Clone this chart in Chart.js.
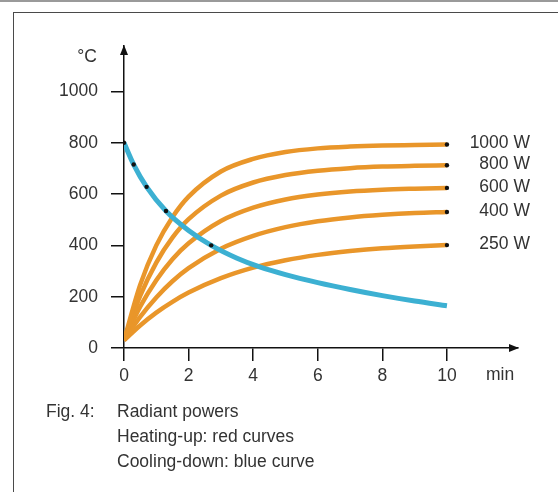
<!DOCTYPE html>
<html>
<head>
<meta charset="utf-8">
<script src="https://cdn.jsdelivr.net/npm/chart.js@4/dist/chart.umd.min.js"></script>
<style>
  html, body { margin: 0; padding: 0; background: #fff; overflow: hidden; }
  body { width: 558px; height: 492px; position: relative; font-family: "Liberation Sans", Arial, sans-serif; }
  #topline { position: absolute; left: 0; top: 0; width: 558px; height: 2px; background: #9a9a9a; }
  #frame { position: absolute; left: 13px; top: 12px; width: 600px; height: 600px; border: 1.5px solid #4a4a4a; }
  #c { position: absolute; left: 0; top: 0; }
  .cap { position: absolute; font-size: 17.5px; color: #333; white-space: nowrap; }
</style>
</head>
<body>
<div id="topline"></div>
<div id="frame"></div>
<canvas id="c" width="558" height="492"></canvas>
<div class="cap" style="left:46px; top:401px;">Fig. 4:</div>
<div class="cap" style="left:117px; top:401px;">Radiant powers</div>
<div class="cap" style="left:117px; top:426px;">Heating-up: red curves</div>
<div class="cap" style="left:117px; top:451px;">Cooling-down: blue curve</div>
<script>
// time in minutes
var times = [0, 0.5, 1, 1.5, 2, 3, 4, 5, 6, 7, 8, 9, 10];

// heating-up curves (deg C)
var heat1000 = [30, 246, 400, 510, 590, 688, 737, 764, 778, 785, 789, 791, 793];
var heat800  = [30, 203, 333, 430, 502, 594, 645, 674, 691, 701, 707, 710, 712];
var heat600  = [30, 161, 264, 346, 408, 495, 547, 579, 598, 610, 617, 621, 624];
var heat400  = [30, 121, 197, 260, 311, 387, 437, 471, 494, 509, 519, 526, 530];
var heat250  = [30, 88, 138, 180, 216, 272, 313, 342, 363, 378, 389, 396, 401];
var powerLabels = ['1000 W', '800 W', '600 W', '400 W', '250 W'];

// cooling-down curve
var coolTimes = [0, 0.3, 0.7, 1.3, 2, 2.7, 3.5, 4.2, 5, 6, 7, 8, 9, 10];
var cool = [800, 715, 628, 534, 458, 400, 350, 316, 286, 255, 228, 204, 183, 165];
var coolDots = [1, 1, 1, 1, 0, 1, 0, 0, 0, 0, 0, 0, 0, 0];

var xTicks = [0, 2, 4, 6, 8, 10];
var yTicks = [0, 200, 400, 600, 800, 1000];

var orange = '#e9962a';
var blue = '#3cb0d2';
var ink = '#111';
var txt = '#333';
var font = { family: '"Liberation Sans", Arial, sans-serif', size: 17.5 };

var heatSeries = [heat1000, heat800, heat600, heat400, heat250];

function pts(xs, ys) {
    return xs.map(function (x, i) { return { x: x, y: ys[i] }; });
}

var datasets = heatSeries.map(function (s, k) {
    return {
        label: powerLabels[k],
        data: pts(times, s),
        borderColor: orange,
        borderWidth: 4.5,
        showLine: true,
        cubicInterpolationMode: 'monotone',
        pointRadius: s.map(function (v, i) { return i === s.length - 1 ? 2.2 : 0; }),
        pointBackgroundColor: ink,
        pointBorderWidth: 0,
        order: 2
    };
});

datasets.push({
    label: 'cooling',
    data: pts(coolTimes, cool),
    borderColor: blue,
    borderWidth: 5,
    showLine: true,
    cubicInterpolationMode: 'monotone',
    pointRadius: coolDots.map(function (d) { return d ? 2.2 : 0; }),
    pointBackgroundColor: ink,
    pointBorderWidth: 0,
    order: 1
});

var extras = {
    id: 'extras',
    afterDraw: function (chart) {
        var ctx = chart.ctx, a = chart.chartArea;
        var xs = chart.scales.x, ys = chart.scales.y;
        ctx.save();
        // arrow heads
        ctx.fillStyle = ink;
        ctx.beginPath();
        ctx.moveTo(a.left, a.top - 1);
        ctx.lineTo(a.left - 4, a.top + 9);
        ctx.lineTo(a.left + 4, a.top + 9);
        ctx.closePath();
        ctx.fill();
        ctx.beginPath();
        ctx.moveTo(a.right + 1, a.bottom);
        ctx.lineTo(a.right - 9, a.bottom - 4);
        ctx.lineTo(a.right - 9, a.bottom + 4);
        ctx.closePath();
        ctx.fill();
        // labels
        ctx.font = font.size + 'px ' + font.family;
        ctx.fillStyle = txt;
        ctx.textBaseline = 'middle';
        ctx.textAlign = 'right';
        heatSeries.forEach(function (s, i) {
            ctx.fillText(powerLabels[i], xs.getPixelForValue(10) + 83, ys.getPixelForValue(s[s.length - 1]) - 1);
        });
        ctx.fillText('°C', 97, 57);
        ctx.textAlign = 'left';
        ctx.fillText('min', 486, 375);
        ctx.restore();
    }
};

new Chart(document.getElementById('c'), {
    type: 'scatter',
    data: { datasets: datasets },
    options: {
        responsive: false,
        animation: false,
        layout: { padding: { left: 0, right: 40, top: 46, bottom: 0 } },
        plugins: { legend: { display: false }, tooltip: { enabled: false } },
        scales: {
            x: {
                type: 'linear',
                min: 0,
                max: 12.2,
                afterBuildTicks: function (s) { s.ticks = xTicks.map(function (v) { return { value: v }; }); },
                afterFit: function (s) { s.height = 144; },
                ticks: { font: font, color: txt, padding: 5, maxRotation: 0, callback: function (v) { return String(v); } },
                grid: { drawOnChartArea: false, tickLength: 13, color: ink, lineWidth: 1.5 },
                border: { color: ink, width: 1.5 }
            },
            y: {
                min: 0,
                max: 1177,
                afterBuildTicks: function (s) { s.ticks = yTicks.map(function (v) { return { value: v }; }); },
                afterFit: function (s) { s.width = 124; },
                ticks: { font: font, color: txt, padding: 13, callback: function (v) { return String(v); } },
                grid: { drawOnChartArea: false, tickLength: 13, color: ink, lineWidth: 1.5 },
                border: { color: ink, width: 1.5 }
            }
        }
    },
    plugins: [extras]
});
</script>
</body>
</html>
